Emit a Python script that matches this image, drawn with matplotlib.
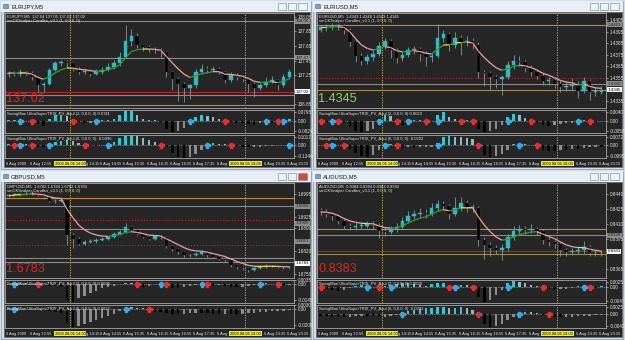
import numpy as np
import pandas as pd
import matplotlib
matplotlib.use("Agg")
import matplotlib.pyplot as plt
from matplotlib.collections import LineCollection
from matplotlib.patches import Rectangle
from matplotlib.transforms import blended_transform_factory

plt.rcParams['font.family'] = ['Liberation Sans', 'DejaVu Sans']

W, H = 625, 340

# ---- candle data (10 minute bars from 12:15) ----
eurjpy_open0 = 137.26
eurjpy_close = [137.28, 137.27, 137.29, 137.28, 137.22, 137.11, 137.13, 137.32, 137.41, 137.43,
                137.41, 137.34, 137.29, 137.31, 137.27, 137.29, 137.32, 137.36, 137.41, 137.50,
                137.72, 137.79, 137.66, 137.63, 137.61, 137.59, 137.56, 137.29, 137.20, 137.13,
                137.08, 137.11, 137.29, 137.34, 137.32, 137.34, 137.29, 137.18, 137.25, 137.22,
                137.20, 137.13, 137.07, 137.11, 137.16, 137.18, 137.11, 137.22, 137.29]
eurjpy_high = [137.31, 137.31, 137.33, 137.31, 137.30, 137.24, 137.16, 137.35, 137.45, 137.46,
               137.46, 137.43, 137.36, 137.34, 137.33, 137.33, 137.36, 137.42, 137.46, 137.56,
               137.93, 137.88, 137.82, 137.68, 137.66, 137.64, 137.62, 137.58, 137.31, 137.22,
               137.15, 137.13, 137.33, 137.40, 137.38, 137.38, 137.36, 137.31, 137.29, 137.28,
               137.25, 137.22, 137.15, 137.14, 137.22, 137.24, 137.20, 137.26, 137.33]
eurjpy_low = [137.23, 137.24, 137.24, 137.25, 137.18, 137.02, 137.02, 137.12, 137.30, 137.38,
              137.36, 137.31, 137.26, 137.26, 137.24, 137.25, 137.27, 137.30, 137.33, 137.38,
              137.48, 137.65, 137.62, 137.58, 137.57, 137.55, 137.50, 137.22, 137.05, 136.90,
              136.88, 136.92, 137.08, 137.26, 137.28, 137.29, 137.26, 137.14, 137.15, 137.19,
              137.16, 137.02, 136.95, 137.04, 137.09, 137.14, 137.04, 137.09, 137.20]

eurusd_open0 = 1.4397
eurusd_close = [1.4399, 1.4399, 1.4400, 1.4400, 1.4397, 1.4386, 1.4374, 1.4370, 1.4373, 1.4376,
                1.4383, 1.4387, 1.4379, 1.4372, 1.4375, 1.4379, 1.4380, 1.4376, 1.4373, 1.4374,
                1.4390, 1.4393, 1.4384, 1.4390, 1.4386, 1.4387, 1.4384, 1.4360, 1.4359, 1.4356,
                1.4354, 1.4356, 1.4366, 1.4370, 1.4369, 1.4364, 1.4360, 1.4357, 1.4352, 1.4353,
                1.4350, 1.4347, 1.4348, 1.4349, 1.4344, 1.4352, 1.4343, 1.4343, 1.4345]
eurusd_high = [1.4401, 1.4402, 1.4403, 1.4402, 1.4402, 1.4398, 1.4388, 1.4377, 1.4376, 1.4380,
               1.4386, 1.4390, 1.4389, 1.4381, 1.4378, 1.4382, 1.4383, 1.4382, 1.4378, 1.4377,
               1.4402, 1.4397, 1.4395, 1.4395, 1.4392, 1.4391, 1.4390, 1.4386, 1.4362, 1.4361,
               1.4358, 1.4358, 1.4370, 1.4375, 1.4374, 1.4371, 1.4366, 1.4362, 1.4359, 1.4356,
               1.4356, 1.4353, 1.4352, 1.4355, 1.4352, 1.4356, 1.4354, 1.4347, 1.4348]
eurusd_low = [1.4395, 1.4396, 1.4397, 1.4397, 1.4393, 1.4383, 1.4369, 1.4366, 1.4367, 1.4370,
              1.4374, 1.4380, 1.4372, 1.4368, 1.4370, 1.4373, 1.4376, 1.4370, 1.4365, 1.4369,
              1.4372, 1.4386, 1.4378, 1.4381, 1.4375, 1.4383, 1.4380, 1.4355, 1.4348, 1.4345,
              1.4346, 1.4340, 1.4354, 1.4363, 1.4365, 1.4360, 1.4357, 1.4354, 1.4349, 1.4349,
              1.4346, 1.4343, 1.4344, 1.4345, 1.4338, 1.4342, 1.4336, 1.4339, 1.4341]

gbpusd_open0 = 1.6988
gbpusd_close = [1.6991, 1.6991, 1.6993, 1.6995, 1.6998, 1.6991, 1.6985, 1.6971, 1.6973, 1.6975,
                1.6868, 1.6858, 1.6843, 1.6848, 1.6851, 1.6855, 1.6858, 1.6863, 1.6873, 1.6878,
                1.6893, 1.6885, 1.6873, 1.6863, 1.6858, 1.6865, 1.6863, 1.6835, 1.6828, 1.6818,
                1.6808, 1.6808, 1.6813, 1.6818, 1.6808, 1.6803, 1.6798, 1.6793, 1.6778, 1.6771,
                1.6768, 1.6763, 1.6768, 1.6773, 1.6775, 1.6775, 1.6773, 1.6771, 1.6771]
gbpusd_high = [1.6995, 1.6996, 1.6998, 1.7000, 1.7003, 1.7000, 1.6993, 1.6987, 1.6977, 1.6985,
               1.6978, 1.6875, 1.6862, 1.6853, 1.6856, 1.6860, 1.6863, 1.6867, 1.6878, 1.6884,
               1.6905, 1.6898, 1.6888, 1.6876, 1.6866, 1.6869, 1.6869, 1.6866, 1.6838, 1.6831,
               1.6822, 1.6813, 1.6818, 1.6823, 1.6820, 1.6810, 1.6806, 1.6801, 1.6796, 1.6781,
               1.6774, 1.6771, 1.6773, 1.6778, 1.6781, 1.6779, 1.6778, 1.6776, 1.6775]
gbpusd_low = [1.6985, 1.6987, 1.6988, 1.6990, 1.6992, 1.6987, 1.6980, 1.6968, 1.6967, 1.6970,
              1.6840, 1.6830, 1.6838, 1.6838, 1.6844, 1.6846, 1.6850, 1.6854, 1.6860, 1.6869,
              1.6875, 1.6880, 1.6868, 1.6859, 1.6854, 1.6855, 1.6858, 1.6830, 1.6820, 1.6812,
              1.6803, 1.6803, 1.6805, 1.6810, 1.6804, 1.6799, 1.6794, 1.6789, 1.6773, 1.6766,
              1.6763, 1.6758, 1.6760, 1.6765, 1.6770, 1.6771, 1.6769, 1.6767, 1.6767]

audusd_open0 = 0.8424
audusd_close = [0.8422, 0.8420, 0.8418, 0.8413, 0.8408, 0.8407, 0.8408, 0.8408, 0.8410, 0.8409,
                0.8403, 0.8402, 0.8405, 0.8407, 0.8413, 0.8418, 0.8420, 0.8421, 0.8420, 0.8426,
                0.8430, 0.8428, 0.8420, 0.8426, 0.8431, 0.8426, 0.8426, 0.8394, 0.8389, 0.8386,
                0.8384, 0.8386, 0.8397, 0.8403, 0.8405, 0.8404, 0.8405, 0.8403, 0.8394, 0.8392,
                0.8390, 0.8384, 0.8382, 0.8383, 0.8384, 0.8387, 0.8381, 0.8381, 0.8381]
audusd_high = [0.8426, 0.8425, 0.8422, 0.8420, 0.8415, 0.8411, 0.8412, 0.8412, 0.8413, 0.8413,
               0.8411, 0.8407, 0.8408, 0.8411, 0.8417, 0.8423, 0.8424, 0.8426, 0.8425, 0.8431,
               0.8434, 0.8433, 0.8430, 0.8437, 0.8437, 0.8434, 0.8430, 0.8428, 0.8397, 0.8392,
               0.8389, 0.8390, 0.8400, 0.8408, 0.8409, 0.8408, 0.8410, 0.8407, 0.8405, 0.8397,
               0.8394, 0.8392, 0.8386, 0.8386, 0.8388, 0.8393, 0.8389, 0.8384, 0.8384]
audusd_low = [0.8419, 0.8417, 0.8414, 0.8410, 0.8405, 0.8404, 0.8404, 0.8405, 0.8406, 0.8405,
              0.8396, 0.8398, 0.8400, 0.8402, 0.8405, 0.8411, 0.8415, 0.8417, 0.8416, 0.8418,
              0.8423, 0.8424, 0.8415, 0.8418, 0.8423, 0.8422, 0.8422, 0.8388, 0.8375, 0.8378,
              0.8380, 0.8374, 0.8383, 0.8394, 0.8400, 0.8400, 0.8401, 0.8399, 0.8390, 0.8388,
              0.8386, 0.8378, 0.8378, 0.8379, 0.8380, 0.8381, 0.8378, 0.8378, 0.8378]

# ---- SwingMan TRIX histograms ----
eurjpy_trix1 = [0.005, 0.008, 0.01, -0.005, -0.01, -0.03, -0.045, 0.02, 0.05, 0.055,
                0.04, 0.015, -0.01, -0.02, -0.015, 0.005, 0.01, 0.008, 0.02, 0.05,
                0.085, 0.09, 0.05, 0.02, 0.01, 0.005, -0.01, -0.07, -0.1, -0.09,
                -0.06, -0.02, 0.03, 0.05, 0.045, 0.03, 0.015, -0.005, -0.01, -0.015,
                -0.02, -0.03, -0.035, -0.02, 0.005, -0.01, -0.005, 0.01, 0.02]
eurjpy_trix2 = [0.005, -0.005, 0.005, 0.003, -0.005, -0.02, -0.03, 0.01, 0.03, 0.045,
                0.05, 0.04, 0.02, -0.005, -0.01, -0.01, -0.005, 0.01, 0.03, 0.07,
                0.095, 0.1, 0.09, 0.07, 0.05, 0.03, 0.01, -0.02, -0.09, -0.13,
                -0.14, -0.13, -0.1, -0.06, 0.01, 0.015, 0.01, 0.005, -0.005, -0.02,
                -0.03, -0.03, -0.025, -0.02, -0.015, -0.012, -0.008, -0.004, 0.01]
eurusd_trix1 = [0.0003, -0.0005, 0.0005, -0.0003, -0.001, -0.003, -0.005, -0.0055, -0.005, -0.004,
                0.001, 0.003, 0.0025, -0.001, -0.002, -0.0015, 0.0005, 0.0008, -0.0005, 0.0003,
                0.003, 0.005, 0.002, 0.001, -0.0005, 0.0005, -0.0005, -0.004, -0.0055, -0.005,
                -0.004, -0.002, 0.002, 0.0035, 0.003, 0.0015, -0.0005, -0.001, -0.002, -0.0025,
                -0.002, -0.0015, -0.001, -0.0008, 0.0003, 0.0005, -0.0005, -0.0005, 0.0003]
eurusd_trix2 = [0.0005, -0.0005, 0.0005, 0.0003, -0.0005, -0.003, -0.006, -0.009, -0.01, -0.008,
                -0.004, 0.001, 0.001, -0.002, -0.002, -0.0015, -0.002, -0.0018, -0.0015, -0.001,
                0.002, 0.007, 0.0075, 0.007, 0.0065, 0.006, 0.005, -0.003, -0.008, -0.01,
                -0.009, -0.007, -0.004, 0.001, 0.0015, 0.001, 0.0005, -0.002, -0.004, -0.005,
                -0.005, -0.004, -0.004, -0.003, -0.003, -0.002, -0.0015, -0.001, -0.001]
gbpusd_trix1 = [0.0005, 0.0005, 0.001, 0.001, 0.0005, -0.0005, -0.0008, -0.001, -0.0015, -0.002,
                -0.012, -0.014, -0.011, -0.009, -0.007, -0.005, -0.003, -0.002, -0.001, 0.0005,
                0.001, 0.0008, -0.001, -0.002, -0.001, 0.0005, -0.0008, -0.002, -0.003, -0.003,
                -0.0025, -0.0015, -0.0008, 0.0003, -0.0005, -0.001, -0.0008, -0.0012, -0.002, -0.0025,
                -0.002, -0.0015, -0.0005, 0.0005, 0.0008, 0.0005, -0.0003, -0.0005, -0.0003]
gbpusd_trix2 = [0.0005, 0.0005, 0.0003, 0.0003, 0.0002, -0.0005, -0.001, -0.002, -0.003, -0.004,
                -0.014, -0.018, -0.017, -0.015, -0.013, -0.011, -0.009, -0.007, -0.005, -0.002,
                0.001, 0.0015, 0.0012, 0.0005, -0.002, -0.003, -0.003, -0.004, -0.005, -0.0055,
                -0.005, -0.0045, -0.004, -0.004, -0.0045, -0.005, -0.005, -0.0048, -0.005, -0.0055,
                -0.005, -0.0045, -0.004, -0.0035, -0.003, -0.0025, -0.002, -0.0018, -0.0015]
audusd_trix1 = [-0.0003, -0.0008, -0.001, -0.0012, -0.001, -0.0005, 0.0003, 0.0004, 0.0003, -0.0002,
                -0.0003, 0.0002, 0.0005, 0.0008, 0.001, 0.001, 0.0008, 0.0005, 0.0003, 0.0008,
                0.001, 0.001, -0.0003, 0.0005, 0.0006, 0.0004, -0.0005, -0.003, -0.0045, -0.004,
                -0.0025, -0.001, 0.001, 0.0017, 0.0015, 0.001, 0.0006, 0.0002, -0.0005, -0.0008,
                -0.001, -0.0008, -0.0006, -0.0004, 0.0002, 0.0003, -0.0002, -0.0003, 0.0001]
audusd_trix2 = [-0.0006, -0.0007, -0.0008, -0.0009, -0.001, -0.0008, -0.0006, -0.0005, -0.0005, -0.0007,
                -0.0009, -0.0008, -0.0006, -0.0003, 0.0003, 0.0008, 0.0012, 0.0015, 0.0017, 0.0018,
                0.002, 0.002, 0.0019, 0.0019, 0.002, 0.0018, 0.0012, -0.0005, -0.003, -0.004,
                -0.0038, -0.003, -0.002, -0.001, 0.0003, 0.0006, 0.0005, 0.0003, -0.0003, -0.0005,
                -0.0008, -0.001, -0.0009, -0.0008, -0.0007, -0.0006, -0.0005, -0.0004, -0.0003]

# arrow signals (bar index)
eurjpy_up1, eurjpy_dn1 = [2, 15, 31, 44, 47], [4, 11, 37, 46]
eurjpy_up2, eurjpy_dn2 = [2, 7, 17, 34, 48], [1, 4, 13, 26, 38]
eurusd_up1, eurusd_dn1 = [2, 10, 15, 20, 32, 44], [0, 3, 13, 18, 24, 26, 36, 46]
eurusd_up2, eurusd_dn2 = [2, 11, 20, 34], [1, 4, 13, 27, 37]
gbpusd_up1, gbpusd_dn1 = [1, 26, 33, 43], [5, 22, 27, 34, 46]
gbpusd_up2, gbpusd_dn2 = [1, 20], [24]
audusd_up1, audusd_dn1 = [8, 12, 23, 32, 45], [0, 10, 22, 26, 38, 46]
audusd_up2, audusd_dn2 = [14, 34], [27, 39]

# price scale labels
eurjpy_ticks = [138.05, 137.85, 137.65, 137.45, 137.25, 136.85]
eurusd_ticks = [1.4405, 1.4395, 1.4385, 1.4375, 1.4365, 1.4355, 1.4335]
gbpusd_ticks = [1.6995, 1.6925, 1.6890, 1.6820, 1.6750]
audusd_ticks = [0.8440, 0.8425, 0.8410, 0.8395, 0.8365]
eurjpy_sub_labels = [["0.0795", "0.00", "-0.0824"], ["0.1017", "0.00", "-0.1344"]]
eurusd_sub_labels = [["0.0040", "0.00", "-0.0059"], ["0.0072", "0.00", "-0.0095"]]
gbpusd_sub_labels = [["0.0035", "0.00", "-0.0145"], ["0.0030", "0.00", "-0.0200"]]
audusd_sub_labels = [["0.0025", "0.00", "-0.0047"], ["0.0025", "0.00", "-0.0043"]]

# visible time labels (those half hidden by the yellow cursor boxes are cut as on screen)
time_labels = ["6 Aug 2009", "6 Aug 12:55", "g 14:15", "6 Aug 14:55", "6 Aug 15:35",
               "6 Aug 16:15", "6 Aug 16:55", "6 Aug 17:35", "6 Aug 1", "6 Aug 19:35", "6 Aug 20:15"]
time_label_bars = [0, 4, 13.7, 16, 20, 24, 28, 32, 36, 44, 48]
marker_bars = [10.5, 40.5]
marker_labels = ["2009.08.06 14:00", "2009.08.06 19:00"]

panels = [
    dict(name="EURJPY,M5", pos=(0, 0), o0=eurjpy_open0, c=eurjpy_close, h=eurjpy_high, l=eurjpy_low,
         t1=eurjpy_trix1, t2=eurjpy_trix2, up1=eurjpy_up1, dn1=eurjpy_dn1, up2=eurjpy_up2, dn2=eurjpy_dn2,
         ylim=(136.80, 138.10), s1lim=(-0.105, 0.095), s2lim=(-0.145, 0.105),
         ticks=eurjpy_ticks, fmt="%.2f", sublab=eurjpy_sub_labels,
         big="137.02", bigcol="#e02424", quote="137.04 137.05 137.02 137.02", sv=("0.0741", "-0.0996"),
         hlines=[(137.99, "#8a8a8a", "-"), (137.49, "#8a8a8a", "-"), (137.02, "#c42020", "-"),
                 (136.98, "#8a8a8a", "-"), (136.84, "#c88a20", "-")],
         boxes=[(137.99, "138.00"), (137.49, "137.47")]),
    dict(name="EURUSD,M5", pos=(312, 0), o0=eurusd_open0, c=eurusd_close, h=eurusd_high, l=eurusd_low,
         t1=eurusd_trix1, t2=eurusd_trix2, up1=eurusd_up1, dn1=eurusd_dn1, up2=eurusd_up2, dn2=eurusd_dn2,
         ylim=(1.4329, 1.44113), s1lim=(-0.0062, 0.0058), s2lim=(-0.0105, 0.0085),
         ticks=eurusd_ticks, fmt="%.4f", sublab=eurusd_sub_labels,
         big="1.4345", bigcol="#84e034", quote="1.4343 1.4348 1.4343 1.4345", sv=("0.0023", "-0.0203"),
         hlines=[(1.4401, "#c88a20", "-"), (1.43553, "#c42020", ":"), (1.43501, "#8a8a8a", "-"),
                 (1.43444, "#a08a50", "-")],
         boxes=[(1.4401, "1.4401"), (1.43501, "1.4350")]),
    dict(name="GBPUSD,M5", pos=(0, 170), o0=gbpusd_open0, c=gbpusd_close, h=gbpusd_high, l=gbpusd_low,
         t1=gbpusd_trix1, t2=gbpusd_trix2, up1=gbpusd_up1, dn1=gbpusd_dn1, up2=gbpusd_up2, dn2=gbpusd_dn2,
         ylim=(1.6739, 1.7027), s1lim=(-0.0145, 0.0033), s2lim=(-0.0195, 0.003),
         ticks=gbpusd_ticks, fmt="%.4f", sublab=gbpusd_sub_labels,
         big="1.6783", bigcol="#e02424", quote="1.6782 1.6784 1.6782 1.6783", sv=("0.0095", "0.0617"),
         hlines=[(1.6981, "#c88a20", "-"), (1.6956, "#8a8a8a", "-"), (1.6915, "#c42020", ":"),
                 (1.6888, "#8a8a8a", "-"), (1.6838, "#c42020", ":"), (1.6801, "#8a8a8a", "-"),
                 (1.6787, "#8a8a8a", "-")],
         boxes=[(1.6956, "1.6956"), (1.6905, "1.6905"), (1.6851, "1.6851")]),
    dict(name="AUDUSD,M5", pos=(312, 170), o0=audusd_open0, c=audusd_close, h=audusd_high, l=audusd_low,
         t1=audusd_trix1, t2=audusd_trix2, up1=audusd_up1, dn1=audusd_dn1, up2=audusd_up2, dn2=audusd_dn2,
         ylim=(0.83565, 0.84504), s1lim=(-0.0048, 0.002), s2lim=(-0.0043, 0.0027),
         ticks=audusd_ticks, fmt="%.4f", sublab=audusd_sub_labels,
         big="0.8383", bigcol="#e02424", quote="0.8384 0.8384 0.8383 0.8383", sv=("0.0028", "-0.0291"),
         hlines=[(0.84051, "#c88a20", "-"), (0.83986, "#8a8a8a", "-"), (0.83829, "#c42020", "-"),
                 (0.83807, "#a08a50", "-")],
         boxes=[(0.83986, "0.8399")]),
]

BG = "#262626"
SPINE = "#a8a8a8"
TXT = "#e6e6e6"


def px_axes(fig, x0, y0, x1, y1):
    return fig.add_axes([x0 / W, 1 - y1 / H, (x1 - x0) / W, (y1 - y0) / H])


def style_axes(ax, ylim):
    ax.set_facecolor(BG)
    for s in ax.spines.values():
        s.set_color(SPINE)
        s.set_linewidth(0.6)
    ax.set_xlim(-0.6, 48.8)
    ax.set_ylim(*ylim)
    ax.set_xticks([])
    ax.yaxis.tick_right()
    ax.tick_params(axis="y", labelsize=3.3, colors=TXT, length=1.5, width=0.4, pad=1)
    for xb in marker_bars:
        ax.axvline(xb, color="#c8c84a", lw=0.6, ls=(0, (1.5, 1.5)), zorder=1)


def draw_hist(ax, vals, up, dn, lim, labels, header):
    style_axes(ax, lim)
    vals = np.array(vals)
    prev = np.concatenate([[vals[0]], vals[:-1]])
    cols = []
    for v, p in zip(vals, prev):
        if v >= 0:
            cols.append("#3cc4cc" if v >= p else "#8fbcc0")
        else:
            cols.append("#000000" if v <= p else "#8c8c8c")
    x = np.arange(len(vals))
    ax.bar(x, vals, width=0.42, color=cols, zorder=2)
    ax.axhline(0, color="#c0c0c0", lw=0.5, ls=(0, (1, 1.5)), zorder=1)
    ax.plot(up, np.zeros(len(up)), ls="none", marker="P", ms=3.6, color="#3aa8e8", mec="#3aa8e8", zorder=4)
    ax.plot(dn, np.zeros(len(dn)), ls="none", marker="P", ms=3.6, color="#e43030", mec="#e43030", zorder=4)
    rng = lim[1] - lim[0]
    top = max(lim[1] - 0.1 * rng, 0.18 * rng)
    ax.set_yticks([top, 0, lim[0] * 0.85])
    ax.set_yticklabels(labels)
    ax.text(0.007, 0.93, header, transform=ax.transAxes, fontsize=3.0, color=TXT, va="top", zorder=5)


fig = plt.figure(figsize=(W / 100, H / 100), dpi=100)
bg = fig.add_axes([0, 0, 1, 1])
bg.set_xlim(0, W)
bg.set_ylim(H, 0)
bg.axis("off")

for p in panels:
    ox, oy = p["pos"]
    # window frame, title bar, buttons
    bg.add_patch(Rectangle((ox + 0.5, oy + 0.5), 310.5, 168.5, fc="#d3dde8", ec="#8ea2b8", lw=0.6))
    bg.add_patch(Rectangle((ox + 1, oy + 1), 309.5, 10.5, fc="#e8eef5", ec="none"))
    bg.add_patch(Rectangle((ox + 3, oy + 3.5), 5, 4.5, fc="#7f9fc4", ec="#44668e", lw=0.4))
    bg.text(ox + 11, oy + 6.3, p["name"], fontsize=4.2, color="#1a1a1a", va="center", ha="left")
    for k, bx in enumerate([278, 288, 298]):
        close_btn = (k == 2 and p["name"].startswith("GBP"))
        bg.add_patch(Rectangle((ox + bx, oy + 3), 9 if k == 2 else 8, 7,
                               fc="#d8483a" if close_btn else "#eef2f6", ec="#8a98a8", lw=0.5))
    bg.add_patch(Rectangle((ox + 4, oy + 12), 306, 155, fc=BG, ec="#6a6a6a", lw=0.5))

    main = px_axes(fig, ox + 5, oy + 13, ox + 294, oy + 108)
    s1 = px_axes(fig, ox + 5, oy + 110, ox + 294, oy + 133)
    s2 = px_axes(fig, ox + 5, oy + 135, ox + 294, oy + 158)

    # main price chart
    style_axes(main, p["ylim"])
    close = np.array(p["c"])
    opn = np.concatenate([[p["o0"]], close[:-1]])
    x = np.arange(len(close))
    main.set_yticks(p["ticks"])
    main.set_yticklabels([p["fmt"] % t for t in p["ticks"]])
    for price, col, ls in p["hlines"]:
        main.axhline(price, color=col, lw=0.8, ls=ls, zorder=1)
    main.vlines(x, p["l"], p["h"], color="#8a9696", lw=0.6, zorder=2)
    up = close >= opn
    body = np.maximum(np.abs(close - opn), (p["ylim"][1] - p["ylim"][0]) * 0.006)
    main.bar(x, body, bottom=np.minimum(close, opn), width=0.62,
             color=np.where(up, "#36b8c2", "#000000"), edgecolor=np.where(up, "#36b8c2", "#3a3a3a"),
             linewidth=0.3, zorder=3)
    ma = pd.Series(close).ewm(span=6, adjust=False).mean().values
    seg = np.stack([np.column_stack([x[:-1], ma[:-1]]), np.column_stack([x[1:], ma[1:]])], axis=1)
    d = np.diff(ma)
    scale = p["ylim"][1] - p["ylim"][0]
    seg_cols = ["#2fa030" if v > scale * 0.002 else ("#f0a0a0" if v < -scale * 0.002 else "#e8e050") for v in d]
    main.add_collection(LineCollection(seg, colors=seg_cols, linewidths=0.9, zorder=4))

    main.text(0.007, 0.985, p["name"] + "  " + p["quote"], transform=main.transAxes,
              fontsize=3.0, color=TXT, va="top", zorder=5)
    main.text(0.007, 0.935, "smCKScalper Candles_v3.1 (1, 0,0.0, 0)", transform=main.transAxes,
              fontsize=3.0, color=TXT, va="top", zorder=5)
    main.text(0.004, 0.035, p["big"], transform=main.transAxes, fontsize=9.2, color=p["bigcol"],
              va="bottom", ha="left", zorder=5)
    tr = blended_transform_factory(main.transAxes, main.transData)
    for price, lab in p["boxes"]:
        main.text(1.006, price, lab, transform=tr, fontsize=3.2, color="#202020", va="center", ha="left",
                  bbox=dict(fc="#8c8c8c", ec="none", pad=0.4), clip_on=False, zorder=6)
    main.text(1.006, float(p["big"]), p["big"], transform=tr, fontsize=3.2, color="#000000",
              va="center", ha="left", bbox=dict(fc="#ffffff", ec="none", pad=0.4), clip_on=False, zorder=7)

    draw_hist(s1, p["t1"], p["up1"], p["dn1"], p["s1lim"], p["sublab"][0],
              "SwingMan UltraSuperTRIX_PV_Azul (2, 0,0.0, 0) " + p["sv"][0])
    draw_hist(s2, p["t2"], p["up2"], p["dn2"], p["s2lim"], p["sublab"][1],
              "SwingMan UltraSuperTRIX_PV_Azul (6, 0,0.0, 0) " + p["sv"][1])

    # time axis under the last sub window
    xt = s2.get_xaxis_transform()
    for b, lab in zip(time_label_bars, time_labels):
        s2.text(b - 0.4, -0.24, lab, transform=xt, fontsize=2.9, color=TXT, va="center", ha="left",
                clip_on=False, zorder=3)
    for b, lab in zip(marker_bars, marker_labels):
        s2.text(b, -0.24, lab, transform=xt, fontsize=2.9, color="#000000", va="center", ha="center",
                bbox=dict(fc="#f4f000", ec="none", pad=0.6), clip_on=False, zorder=6)

fig.savefig("out.png", dpi=100, facecolor="#d3dde8")
